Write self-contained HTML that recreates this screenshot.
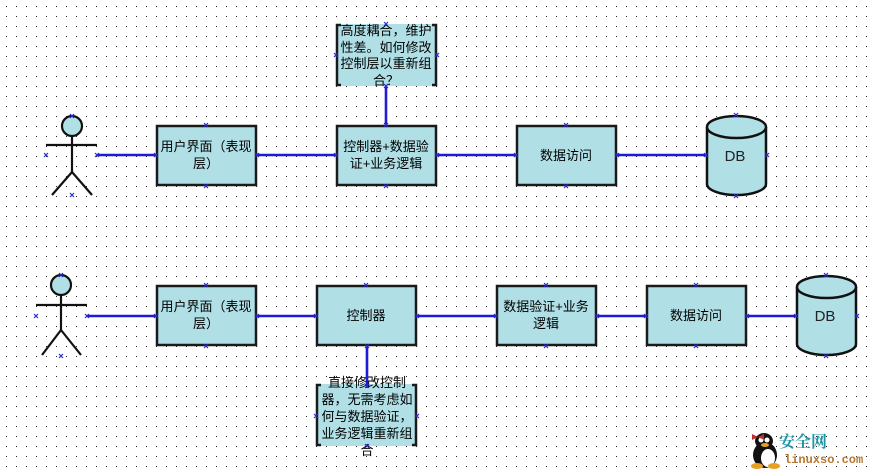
<!DOCTYPE html>
<html><head><meta charset="utf-8">
<style>
html,body{margin:0;padding:0;background:#fff;}
svg{display:block;}
text{font-family:"Liberation Sans","Noto Sans CJK SC",sans-serif;font-size:13px;fill:#000;}
</style></head>
<body>
<svg width="873" height="474" viewBox="0 0 873 474" xmlns="http://www.w3.org/2000/svg">
<defs>
<pattern id="dots" x="0" y="0" width="10" height="10" patternUnits="userSpaceOnUse">
<rect x="6" y="6" width="1" height="1" fill="#222"/>
</pattern>
</defs>
<rect width="873" height="474" fill="#fff"/>
<rect width="873" height="474" fill="url(#dots)"/>

<!-- TOP ROW connectors -->
<g stroke="#1c1cd6" stroke-width="2.6" fill="none">
<line x1="97" y1="155" x2="156" y2="155"/>
<line x1="257" y1="155" x2="336" y2="155"/>
<line x1="437" y1="155" x2="516" y2="155"/>
<line x1="617" y1="155" x2="706" y2="155"/>
<line x1="386" y1="86" x2="386" y2="125"/>
</g>

<!-- actor 1 -->
<g stroke="#111" stroke-width="2.2" fill="none">
<line x1="46" y1="145" x2="97" y2="145"/>
<line x1="72" y1="136" x2="72" y2="172"/>
<line x1="72" y1="172" x2="52" y2="195"/>
<line x1="72" y1="172" x2="92" y2="195"/>
</g>
<circle cx="72" cy="126" r="10" fill="#b0dfe6" stroke="#111" stroke-width="2.2"/>

<g fill="#b0dfe6" stroke="#1a1a1a" stroke-width="2.5">
<rect x="157" y="126" width="99" height="59"/>
<rect x="337" y="126" width="99" height="59"/>
<rect x="517" y="126" width="99" height="59"/>
</g>
<text x="206" y="151" text-anchor="middle">用户界面（表现</text>
<text x="206" y="168" text-anchor="middle">层）</text>
<text x="386" y="151" text-anchor="middle">控制器+数据验</text>
<text x="386" y="168" text-anchor="middle">证+业务逻辑</text>
<text x="566" y="160" text-anchor="middle">数据访问</text>

<!-- note 1 -->
<rect x="336" y="24" width="101" height="62" fill="#b0dfe6"/>
<g stroke="#1a1a1a" stroke-width="2.5" fill="none">
<polyline points="341,25 337,25 337,85 341,85"/>
<polyline points="432,25 436,25 436,85 432,85"/>
</g>
<text x="386" y="35" text-anchor="middle">高度耦合，维护</text>
<text x="386" y="52" text-anchor="middle">性差。如何修改</text>
<text x="386" y="68" text-anchor="middle">控制层以重新组</text>
<text x="386" y="85" text-anchor="middle">合？</text>

<!-- DB 1 -->
<path d="M707,127 L707,184 A29.5,11 0 0 0 766,184 L766,127" fill="#b0dfe6" stroke="#111" stroke-width="2.5"/>
<ellipse cx="736.5" cy="127" rx="29.5" ry="11" fill="#b0dfe6" stroke="#111" stroke-width="2.5"/>
<text x="735" y="161" text-anchor="middle" style="font-size:15px;fill:#222">DB</text>

<!-- BOTTOM ROW connectors -->
<g stroke="#1c1cd6" stroke-width="2.6" fill="none">
<line x1="87" y1="316" x2="156" y2="316"/>
<line x1="257" y1="316" x2="316" y2="316"/>
<line x1="417" y1="316" x2="496" y2="316"/>
<line x1="597" y1="316" x2="646" y2="316"/>
<line x1="747" y1="316" x2="796" y2="316"/>
</g>

<!-- actor 2 -->
<g stroke="#111" stroke-width="2.2" fill="none">
<line x1="36" y1="305" x2="87" y2="305"/>
<line x1="61" y1="295" x2="61" y2="330"/>
<line x1="61" y1="330" x2="42" y2="355"/>
<line x1="61" y1="330" x2="81" y2="355"/>
</g>
<circle cx="61" cy="285" r="10" fill="#b0dfe6" stroke="#111" stroke-width="2.2"/>

<g fill="#b0dfe6" stroke="#1a1a1a" stroke-width="2.5">
<rect x="157" y="286" width="99" height="59"/>
<rect x="317" y="286" width="99" height="59"/>
<rect x="497" y="286" width="99" height="59"/>
<rect x="647" y="286" width="99" height="59"/>
</g>
<text x="206" y="311" text-anchor="middle">用户界面（表现</text>
<text x="206" y="328" text-anchor="middle">层）</text>
<text x="366" y="320" text-anchor="middle">控制器</text>
<text x="546" y="311" text-anchor="middle">数据验证+业务</text>
<text x="546" y="328" text-anchor="middle">逻辑</text>
<text x="696" y="320" text-anchor="middle">数据访问</text>

<!-- note 2 -->
<rect x="316" y="384" width="101" height="62" fill="#b0dfe6"/>
<g stroke="#1a1a1a" stroke-width="2.5" fill="none">
<polyline points="321,385 317,385 317,445 321,445"/>
<polyline points="412,385 416,385 416,445 412,445"/>
</g>
<line x1="367" y1="346" x2="367" y2="388" stroke="#1c1cd6" stroke-width="2.6"/>
<text x="367" y="387" text-anchor="middle">直接修改控制</text>
<text x="367" y="404" text-anchor="middle">器，无需考虑如</text>
<text x="367" y="421" text-anchor="middle">何与数据验证，</text>
<text x="367" y="438" text-anchor="middle">业务逻辑重新组</text>
<text x="367" y="455" text-anchor="middle">合</text>

<!-- DB 2 -->
<path d="M797,287 L797,344 A29.5,11 0 0 0 856,344 L856,287" fill="#b0dfe6" stroke="#111" stroke-width="2.5"/>
<ellipse cx="826.5" cy="287" rx="29.5" ry="11" fill="#b0dfe6" stroke="#111" stroke-width="2.5"/>
<text x="825" y="321" text-anchor="middle" style="font-size:15px;fill:#222">DB</text>

<!-- connection markers -->
<g stroke="#2a2ad0" stroke-width="1.2" fill="none">
<path d="M44,153l4,4m0,-4l-4,4 M95,153l4,4m0,-4l-4,4 M70,193l4,4m0,-4l-4,4 M70,114l4,4m0,-4l-4,4 M204,123l4,4m0,-4l-4,4 M204,184l4,4m0,-4l-4,4 M154,153l4,4m0,-4l-4,4 M255,153l4,4m0,-4l-4,4 M384,123l4,4m0,-4l-4,4 M384,184l4,4m0,-4l-4,4 M334,153l4,4m0,-4l-4,4 M435,153l4,4m0,-4l-4,4 M564,123l4,4m0,-4l-4,4 M564,184l4,4m0,-4l-4,4 M514,153l4,4m0,-4l-4,4 M615,153l4,4m0,-4l-4,4 M384,84l4,4m0,-4l-4,4 M384,22l4,4m0,-4l-4,4 M334,53l4,4m0,-4l-4,4 M435,53l4,4m0,-4l-4,4 M734,113l4,4m0,-4l-4,4 M734,194l4,4m0,-4l-4,4 M704,153l4,4m0,-4l-4,4 M765,153l4,4m0,-4l-4,4"/>
<path d="M34,314l4,4m0,-4l-4,4 M85,314l4,4m0,-4l-4,4 M59,354l4,4m0,-4l-4,4 M59,273l4,4m0,-4l-4,4 M204,283l4,4m0,-4l-4,4 M204,344l4,4m0,-4l-4,4 M154,314l4,4m0,-4l-4,4 M255,314l4,4m0,-4l-4,4 M364,283l4,4m0,-4l-4,4 M365,344l4,4m0,-4l-4,4 M314,314l4,4m0,-4l-4,4 M415,314l4,4m0,-4l-4,4 M544,283l4,4m0,-4l-4,4 M544,344l4,4m0,-4l-4,4 M494,314l4,4m0,-4l-4,4 M595,314l4,4m0,-4l-4,4 M694,283l4,4m0,-4l-4,4 M694,344l4,4m0,-4l-4,4 M644,314l4,4m0,-4l-4,4 M745,314l4,4m0,-4l-4,4 M365,384l4,4m0,-4l-4,4 M365,444l4,4m0,-4l-4,4 M314,414l4,4m0,-4l-4,4 M415,414l4,4m0,-4l-4,4 M824,273l4,4m0,-4l-4,4 M824,354l4,4m0,-4l-4,4 M794,314l4,4m0,-4l-4,4 M855,314l4,4m0,-4l-4,4"/>
</g>

<!-- watermark -->
<g>
<ellipse cx="765" cy="455" rx="12" ry="13" fill="#111"/>
<ellipse cx="768" cy="458" rx="7" ry="9" fill="#fff"/>
<ellipse cx="764" cy="441" rx="9" ry="8" fill="#111"/>
<circle cx="761" cy="440" r="2.5" fill="#fff"/>
<circle cx="767" cy="440" r="2.5" fill="#fff"/>
<ellipse cx="765" cy="445" rx="4" ry="2" fill="#e8a020"/>
<path d="M752,434 l6,3 l-6,3z M764,434 l-6,3 l6,3z" fill="#c03030"/>
<ellipse cx="757" cy="466" rx="6" ry="3" fill="#e8a020"/>
<ellipse cx="774" cy="466" rx="6" ry="3" fill="#e8a020"/>
<text x="779" y="447" style="font-family:'Noto Serif CJK SC','Noto Sans CJK SC',serif;font-size:16px;font-weight:bold;fill:#1f95a8">安全网</text>
<text x="784" y="463" style="font-family:'Liberation Mono',monospace;font-size:12px;font-weight:bold;fill:#b8772a">linuxso.com</text>
</g>
</svg>
</body></html>
